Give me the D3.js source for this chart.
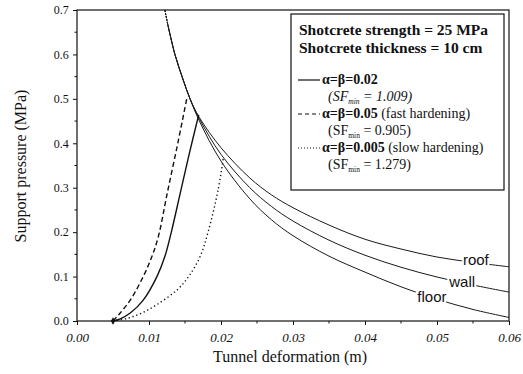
<!DOCTYPE html>
<meta charset="utf-8">
<head>
<style>
body { margin: 0; background: #fff; }
text { font-family: "Liberation Serif", "Times New Roman", serif; fill: #111; }
.axis path, .axis line { stroke: #111; }
.grc { fill: none; stroke: #1a1a1a; stroke-width: 1; }
.support { fill: none; stroke: #111; stroke-width: 1.4; }
.curvelab { font-family: "Liberation Sans", Arial, sans-serif; font-size: 15px; }
</style>
</head>
<body>
<svg id="graphic" width="523" height="374"></svg>
<script src="https://d3js.org/d3.v7.min.js"></script>
<script>
// ground reaction curves (deformation m, pressure MPa)
var grcX   = [0.0122, 0.0126, 0.0136, 0.0147, 0.0157, 0.0170, 0.0200, 0.0240, 0.0270, 0.0300, 0.0350, 0.0400, 0.0450, 0.0500, 0.0550, 0.0600];
var roofY  = [0.700, 0.668, 0.600, 0.545, 0.500, 0.458, 0.390, 0.322, 0.284, 0.255, 0.216, 0.184, 0.162, 0.144, 0.132, 0.122];
var wallY  = [0.700, 0.668, 0.600, 0.545, 0.500, 0.455, 0.375, 0.300, 0.258, 0.225, 0.182, 0.148, 0.121, 0.099, 0.081, 0.065];
var floorY = [0.700, 0.668, 0.600, 0.545, 0.500, 0.450, 0.360, 0.275, 0.228, 0.192, 0.146, 0.110, 0.077, 0.049, 0.026, 0.008];

// shotcrete support curves
var solidX = [0.0050, 0.0060, 0.0074, 0.0092, 0.0111, 0.0122, 0.0131, 0.0143, 0.0155, 0.0169];
var solidY = [0.000, 0.005, 0.018, 0.047, 0.100, 0.145, 0.200, 0.285, 0.370, 0.464];
var dashX  = [0.0050, 0.0060, 0.0074, 0.0092, 0.0104, 0.0113, 0.0125, 0.0140, 0.0153];
var dashY  = [0.000, 0.018, 0.047, 0.100, 0.145, 0.190, 0.285, 0.400, 0.505];
var dotX   = [0.0050, 0.0070, 0.0090, 0.0111, 0.0139, 0.0155, 0.0171, 0.0182, 0.0196, 0.0203];
var dotY   = [0.000, 0.006, 0.018, 0.037, 0.070, 0.100, 0.145, 0.200, 0.295, 0.365];

var xTicks = [0.00, 0.01, 0.02, 0.03, 0.04, 0.05, 0.06];
var yTicks = [0.0, 0.1, 0.2, 0.3, 0.4, 0.5, 0.6, 0.7];

var svg = d3.select("svg");
var margin = {left: 77, right: 14, top: 10, bottom: 53};
var width = 523 - margin.left - margin.right,
    height = 374 - margin.top - margin.bottom;

var g = svg.append("g").attr("transform", "translate(" + margin.left + "," + margin.top + ")");

var x = d3.scaleLinear().domain([0, 0.06]).range([0, width]);
var y = d3.scaleLinear().domain([0, 0.7]).range([height, 0]);

function zip(xs, ys) { return xs.map(function(v, i) { return [v, ys[i]]; }); }

var line = d3.line()
  .x(function(d) { return x(d[0]); })
  .y(function(d) { return y(d[1]); })
  .curve(d3.curveCatmullRom.alpha(0.5));

// frame
g.append("rect").attr("width", width).attr("height", height)
  .attr("fill", "none").attr("stroke", "#111").attr("stroke-width", 1.2);

// minor ticks
g.append("g").selectAll("line").data(d3.range(0.005, 0.06, 0.01)).enter().append("line")
  .attr("x1", function(d) { return x(d); }).attr("x2", function(d) { return x(d); })
  .attr("y1", height).attr("y2", height + 2.5).attr("stroke", "#111");
g.append("g").selectAll("line").data(d3.range(0.05, 0.7, 0.1)).enter().append("line")
  .attr("y1", function(d) { return y(d); }).attr("y2", function(d) { return y(d); })
  .attr("x1", 0).attr("x2", -2.5).attr("stroke", "#111");

var xAxis = g.append("g").attr("class", "axis")
  .attr("transform", "translate(0," + height + ")")
  .call(d3.axisBottom(x).tickValues(xTicks).tickFormat(d3.format(".2f")).tickSize(4).tickSizeOuter(0));
xAxis.attr("font-family", '"Liberation Serif", serif');
xAxis.select(".domain").remove();
xAxis.selectAll("text").attr("font-size", 13).attr("font-style", "italic").attr("dy", "1.05em");

var yAxis = g.append("g").attr("class", "axis")
  .call(d3.axisLeft(y).tickValues(yTicks).tickFormat(d3.format(".1f")).tickSize(4).tickSizeOuter(0));
yAxis.attr("font-family", '"Liberation Serif", serif');
yAxis.select(".domain").remove();
yAxis.selectAll("text").attr("font-size", 12).attr("dx", "-0.1em").attr("fill", "#333");

// ground reaction curves (faint where they leave the top edge)
[roofY, wallY, floorY].forEach(function(ys, i) {
  var pts = zip(grcX, ys);
  g.append("path").attr("class", "grc").attr("stroke", i === 2 ? "#444" : null)
    .attr("d", line(pts.slice(1)));
  g.append("path").attr("class", "grc").attr("stroke", "#aaa").attr("stroke-dasharray", "2,1")
    .attr("d", line(pts.slice(0, 2)));
});

// support curves
g.append("path").attr("class", "support").attr("d", line(zip(solidX, solidY)));
g.append("path").attr("class", "support").attr("stroke-dasharray", "5,3").attr("d", line(zip(dashX, dashY)));
g.append("path").attr("class", "support").attr("stroke-dasharray", "1.3,2.7").attr("d", line(zip(dotX, dotY)));

g.append("path").attr("d", d3.symbol(d3.symbolDiamond, 16)())
  .attr("transform", "translate(" + x(0.005) + "," + y(0) + ")").attr("fill", "#111");

// curve labels
var labs = [["roof", 0.0554, 0.137], ["wall", 0.0535, 0.088], ["floor", 0.0493, 0.054]];
g.selectAll(".curvelab").data(labs).enter().append("text")
  .attr("class", "curvelab")
  .attr("x", function(d) { return x(d[1]); })
  .attr("y", function(d) { return y(d[2]); })
  .attr("dy", "0.35em")
  .attr("text-anchor", "middle")
  .attr("stroke", "#fff").attr("stroke-width", 4).attr("paint-order", "stroke")
  .text(function(d) { return d[0]; });

// legend box
var lg = svg.append("g").attr("transform", "translate(291,14)");
lg.append("rect").attr("width", 213).attr("height", 176)
  .attr("fill", "#fff").attr("stroke", "#111").attr("stroke-width", 1.2);

var bold = lg.append("g").attr("font-size", 15.5).attr("font-weight", "bold");
bold.append("text").attr("x", 8).attr("y", 21).text("Shotcrete strength = 25 MPa");
bold.append("text").attr("x", 8).attr("y", 39).text("Shotcrete thickness = 10 cm");

var legItems = [
  {label: "α=β=0.02", extra: "", sf: "1.009", dash: null, italic: true},
  {label: "α=β=0.05", extra: " (fast hardening)", sf: "0.905", dash: "4,3", italic: false},
  {label: "α=β=0.005", extra: " (slow hardening)", sf: "1.279", dash: "1,2", italic: false}
];
legItems.forEach(function(d, i) {
  var yy = 70 + i * 34;
  lg.append("line").attr("x1", 7).attr("x2", 29).attr("y1", yy - 4).attr("y2", yy - 4)
    .attr("stroke", "#111").attr("stroke-width", 1.2).attr("stroke-dasharray", d.dash);
  var t = lg.append("text").attr("x", 31).attr("y", yy).attr("font-size", 14);
  t.append("tspan").attr("font-weight", "bold").text(d.label);
  t.append("tspan").text(d.extra);
  var s = lg.append("text").attr("x", 37).attr("y", yy + 17).attr("font-size", 14)
    .attr("font-style", d.italic ? "italic" : null);
  s.append("tspan").text("(SF");
  s.append("tspan").attr("font-size", 7.5).attr("dy", 3).text("min");
  s.append("tspan").attr("dy", -3).text(" = " + d.sf + ")");
});

// axis titles
svg.append("text").attr("x", 290).attr("y", 362).attr("text-anchor", "middle")
  .attr("font-size", 16).text("Tunnel deformation (m)");
svg.append("text").attr("transform", "translate(26,166) rotate(-90)").attr("text-anchor", "middle")
  .attr("font-size", 16).text("Support pressure (MPa)");
</script>
</body>
